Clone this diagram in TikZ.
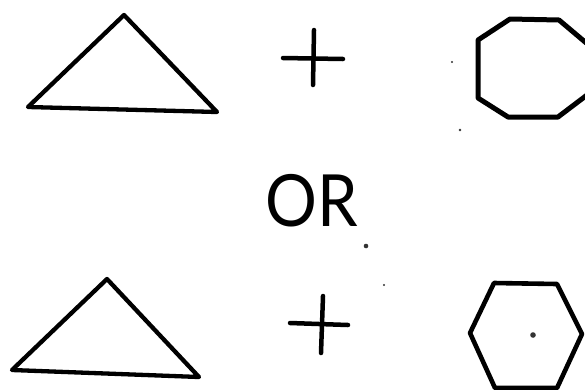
\documentclass[tikz,border=0pt]{standalone}
\usepackage{fontspec}
\newfontfamily\orfont{Lato}
\begin{document}
\begin{tikzpicture}[x=1pt,y=-1pt,
  shape line/.style={draw=black,line width=4.3pt,line join=round,line cap=round},
  plus line/.style={draw=black,line width=4.5pt,line cap=round},
  speck/.style={fill=black!80}]
\useasboundingbox (0,0) rectangle (585,389);
% top triangle
\draw[shape line] (124,15) -- (217,112) -- (28,107) -- cycle;
% top plus
\draw[plus line] (314,30) -- (313,85);
\draw[plus line] (283,58) -- (343,59);
% octagon
\draw[shape line,line width=5pt] (510,19) -- (559,20) -- (591,47) -- (591,92) -- (558,117) -- (508,117) -- (478,98) -- (478,40) -- cycle;
% OR
\node[inner sep=0pt,anchor=center,xscale=0.9] (or) at (312,201) {\orfont\fontsize{72}{72}\selectfont OR};
% bottom triangle
\draw[shape line] (107,279) -- (199,377) -- (12,370) -- cycle;
% bottom plus
\draw[plus line] (323,296) -- (321,353);
\draw[plus line] (290,323) -- (348,325);
% hexagon
\draw[shape line,line width=4.6pt] (494,283) -- (557,284) -- (582,334) -- (557,388) -- (495,388) -- (470,333) -- cycle;
% specks
\fill[speck] (452,62) circle (1.2pt);
\fill[speck] (460,130) circle (1.4pt);
\fill[speck] (366,246) circle (2.3pt);
\fill[speck] (384,285) circle (1.2pt);
\fill[speck] (533,335) circle (2.8pt);
\end{tikzpicture}
\end{document}
